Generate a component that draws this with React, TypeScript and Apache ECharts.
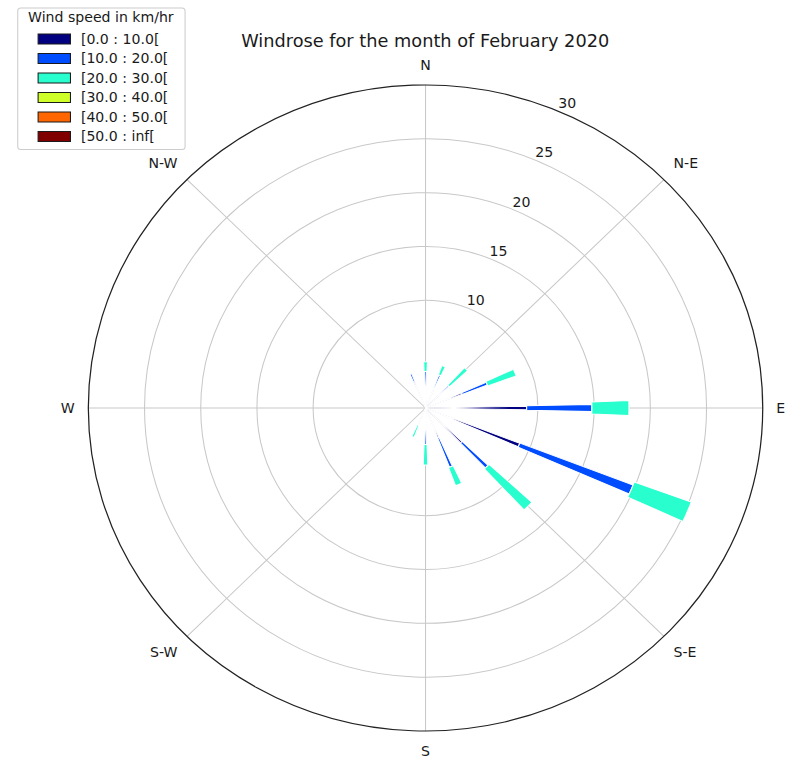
import React, { useEffect, useRef } from 'react';
import * as echarts from 'echarts';

// Sixteen compass sectors, clockwise from north
const directions = ['N', 'NNE', 'NE', 'ENE', 'E', 'ESE', 'SE', 'SSE', 'S', 'SSW', 'SW', 'WSW', 'W', 'WNW', 'NW', 'NNW'];
// Labels shown on the eight principal directions
const compassLabels: Record<string, string> = { N: 'N', NE: 'N-E', E: 'E', SE: 'S-E', S: 'S', SW: 'S-W', W: 'W', NW: 'N-W' };

// Wind speed classes (km/hr), their jet colours and sector openings (degrees)
const speedBins = ['[0.0 : 10.0[', '[10.0 : 20.0[', '[20.0 : 30.0[', '[30.0 : 40.0[', '[40.0 : 50.0[', '[50.0 : inf['];
const binColors = ['#000080', '#004cff', '#29ffce', '#ceff29', '#ff6600', '#800000'];
const binOpenings = [2.2, 2.6, 4.4, 5.0, 5.0, 5.0];

// Frequency (%) per direction for each speed class
const freq0to10 = [2.0, 1.8, 1.7, 3.5, 9.0, 9.0, 4.5, 3.0, 2.0, 1.0, 0, 0, 0, 0, 0, 2.6];
const freq10to20 = [1.4, 1.5, 1.2, 2.4, 5.8, 10.8, 3.2, 2.9, 1.4, 0.7, 0, 0, 0, 0, 0, 0.8];
const freq20to30 = [0.9, 0.9, 2.2, 2.7, 3.3, 5.4, 5.2, 1.8, 1.9, 1.2, 0, 0, 0, 0, 0, 0];
const freq30to40 = [0, 0, 0, 0, 0, 0, 0, 0, 0, 0, 0, 0, 0, 0, 0, 0];
const freq40to50 = [0, 0, 0, 0, 0, 0, 0, 0, 0, 0, 0, 0, 0, 0, 0, 0];
const freq50up = [0, 0, 0, 0, 0, 0, 0, 0, 0, 0, 0, 0, 0, 0, 0, 0];

// Radial grid labels
const ringLabels = [10, 15, 20, 25, 30];

const FONT = 'DejaVu Sans';
const TEXT = '#1a1a1a';
const GRID = '#c8c8c8';
const STRETCH = 1.044;
const CX = 407.6;
const CY = 408;
const R = 323;
const R_MAX = 30;
// radial labels sit a little outside their ring
const LABEL_GAP = 10.5;

export default function App() {
  const ref = useRef<HTMLDivElement>(null);

  useEffect(() => {
    if (!ref.current) return;
    const chart = echarts.init(ref.current, undefined, { renderer: 'svg' });
    const binValues = [freq0to10, freq10to20, freq20to30, freq30to40, freq40to50, freq50up];

    // cumulative [direction, start, end] rows for each stacked speed class
    const running = directions.map(() => 0);
    const binRows = binValues.map((vals) =>
      vals.map((v, k) => {
        const start = running[k];
        running[k] = start + v;
        return [k, start, start + v];
      })
    );

    const labelMin = -(LABEL_GAP / R) * R_MAX;

    chart.setOption({
      animation: false,
      backgroundColor: '#ffffff',
      textStyle: { fontFamily: FONT },
      graphic: [
        {
          type: 'text',
          x: 407.3,
          y: 41,
          style: {
            text: 'Windrose for the month of February 2020',
            font: `17px "${FONT}"`,
            fill: TEXT,
            textAlign: 'center',
            textVerticalAlign: 'middle',
          },
          z: 10,
        },
        {
          type: 'text',
          x: 96.6,
          y: 17,
          style: {
            text: 'Wind speed in km/hr',
            font: `13.5px "${FONT}"`,
            fill: TEXT,
            textAlign: 'center',
            textVerticalAlign: 'middle',
          },
          z: 10,
        },
      ],
      legend: {
        orient: 'vertical',
        left: 17,
        top: 8,
        padding: [24, 16, 6, 19],
        itemWidth: 31,
        itemHeight: 10,
        itemGap: 5.5,
        icon: 'rect',
        selectedMode: false,
        backgroundColor: 'rgba(255,255,255,0.85)',
        borderColor: '#cccccc',
        borderWidth: 1,
        borderRadius: 3,
        itemStyle: { borderColor: '#1a1a1a', borderWidth: 1 },
        textStyle: { fontFamily: FONT, fontSize: 13.5, color: TEXT, lineHeight: 14, padding: [0, 0, 0, 5] },
        data: speedBins,
      },
      polar: [
        { center: [CX, CY], radius: R },
        { center: [CX, CY], radius: R },
        { center: [CX, CY], radius: R + LABEL_GAP },
      ],
      angleAxis: [
        {
          // direction scale, spokes and compass labels
          polarIndex: 0,
          type: 'category',
          data: directions,
          boundaryGap: false,
          startAngle: 90,
          clockwise: true,
          axisLine: { show: false },
          axisTick: { show: false },
          axisLabel: {
            interval: 1,
            margin: 13,
            fontFamily: FONT,
            fontSize: 13.5,
            color: TEXT,
            formatter: (v: string) => compassLabels[v] ?? '',
          },
          splitLine: { show: true, lineStyle: { color: GRID, width: 1 } },
        },
        {
          // full outer circle
          polarIndex: 1,
          type: 'value',
          min: 0,
          max: 360,
          startAngle: 90,
          axisLine: { show: true, lineStyle: { color: '#222222', width: 1.2 } },
          axisTick: { show: false },
          axisLabel: { show: false },
          splitLine: { show: false },
        },
        {
          polarIndex: 2,
          type: 'value',
          min: 0,
          max: 360,
          startAngle: 66,
          show: false,
        },
      ],
      radiusAxis: [
        {
          polarIndex: 0,
          type: 'value',
          min: 0,
          max: R_MAX,
          axisLine: { show: false },
          axisTick: { show: false },
          axisLabel: { show: false },
          splitLine: { show: false },
        },
        {
          // grid rings
          polarIndex: 1,
          type: 'value',
          min: 0,
          max: R_MAX,
          interval: 5,
          axisLine: { show: false },
          axisTick: { show: false },
          axisLabel: { show: false },
          splitLine: {
            show: true,
            lineStyle: {
              color: ['rgba(0,0,0,0)', 'rgba(0,0,0,0)', GRID, GRID, GRID, GRID, 'rgba(0,0,0,0)'],
              width: 1,
            },
          },
        },
        {
          // ring labels
          polarIndex: 2,
          type: 'value',
          min: labelMin,
          max: R_MAX,
          axisLine: { show: false },
          axisTick: { show: false },
          splitLine: { show: false },
          axisLabel: {
            show: true,
            customValues: ringLabels,
            margin: 0,
            align: 'center',
            verticalAlign: 'middle',
            fontFamily: FONT,
            fontSize: 13.5,
            color: TEXT,
            formatter: (v: number) => (ringLabels.includes(v) ? String(v) : ''),
          },
        },
      ],
      series: speedBins.map((name, j) => ({
        type: 'custom',
        name,
        coordinateSystem: 'polar',
        polarIndex: 0,
        encode: { angle: 0, radius: [1, 2] },
        data: binRows[j],
        itemStyle: { color: binColors[j] },
        z: 3,
        renderItem: (params: any, api: any) => {
          const k = api.value(0);
          const start = api.value(1);
          const end = api.value(2);
          if (!(end > start)) return null;
          const cs = params.coordSys;
          const cx = cs.cx;
          const cy = cs.cy;
          const pIn = api.coord([start, k]);
          const pOut = api.coord([end, k]);
          const r0 = Math.hypot(pIn[0] - cx, pIn[1] - cy);
          const r = Math.hypot(pOut[0] - cx, pOut[1] - cy);
          const ang = Math.atan2(pOut[1] - cy, pOut[0] - cx);
          const half = ((binOpenings[j] / 2) * Math.PI) / 180;
          return {
            type: 'sector',
            shape: { cx, cy, r0, r, startAngle: ang - half, endAngle: ang + half, clockwise: true },
            style: { fill: binColors[j], stroke: '#ffffff', lineWidth: 1 },
          };
        },
      })),
    });

    return () => chart.dispose();
  }, []);

  return (
    <div
      ref={ref}
      style={{
        position: 'absolute',
        left: 0,
        top: 0,
        width: 763,
        height: 758,
        transform: `scaleX(${STRETCH})`,
        transformOrigin: '0 0',
      }}
    />
  );
}
